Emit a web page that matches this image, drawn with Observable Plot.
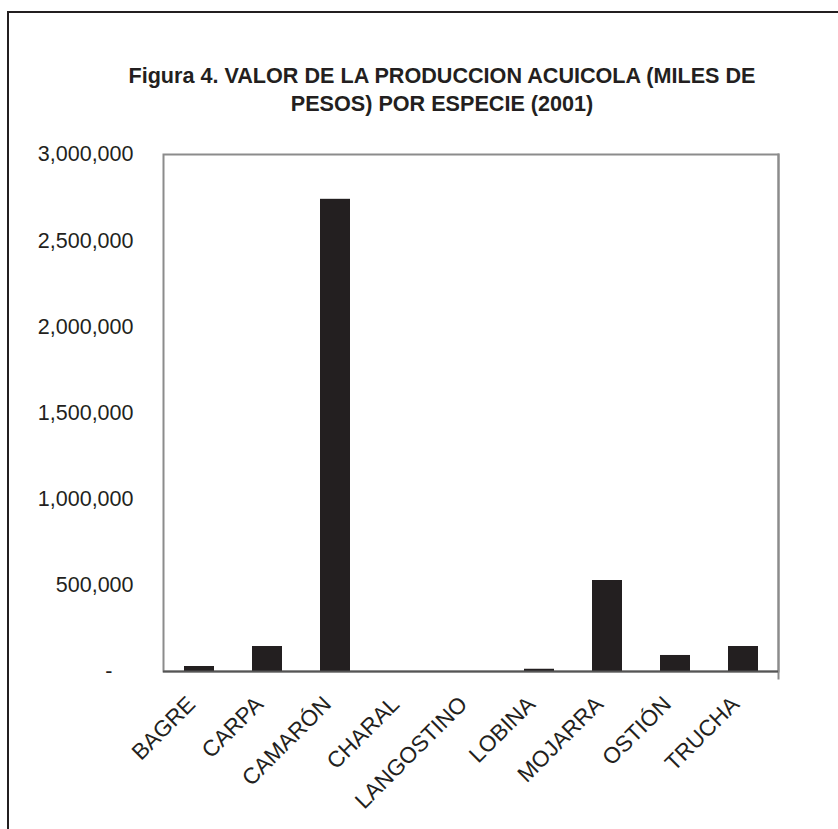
<!DOCTYPE html>
<html>
<head>
<meta charset="utf-8">
<script src="https://cdn.jsdelivr.net/npm/d3@7"></script>
<script src="https://cdn.jsdelivr.net/npm/@observablehq/plot@0.6"></script>
<style>
  html, body { margin: 0; padding: 0; background: #fff; overflow: hidden; }
  #page { position: relative; width: 838px; height: 829px; overflow: hidden; }
  #frame { position: absolute; left: 7px; top: 11px; width: 900px; height: 900px;
           border-left: 2px solid #231f20; border-top: 2px solid #231f20; }
  #title { position: absolute; left: 0; width: 884px; top: 62px; text-align: center;
           font: bold 21.6px "Liberation Sans", Arial, sans-serif; color: #231f20; line-height: 28px; }
  #chart { position: absolute; left: 0; top: 0; }
</style>
</head>
<body>
<div id="page">
  <div id="frame"></div>
  <div id="title">Figura 4. VALOR DE LA PRODUCCION ACUICOLA (MILES DE<br>PESOS) POR ESPECIE (2001)</div>
  <div id="chart"></div>
</div>
<script>
// Valor de la producción acuícola por especie, 2001 (miles de pesos)
const especies = ["BAGRE", "CARPA", "CAMARÓN", "CHARAL", "LANGOSTINO", "LOBINA", "MOJARRA", "OSTIÓN", "TRUCHA"];
const valores = [29000, 145000, 2740000, 0, 0, 13000, 528000, 93000, 145000];
const yTicks = [500000, 1000000, 1500000, 2000000, 2500000, 3000000];

const datos = especies.map((especie, i) => ({especie, valor: valores[i]}));

const ink = "#231f20";
const font = "'Liberation Sans', Arial, sans-serif";

const chart = Plot.plot({
  width: 838,
  height: 829,
  marginLeft: 163,
  marginRight: 60,
  marginTop: 154,
  marginBottom: 158,
  style: {fontFamily: font, fontSize: "21.5px", color: ink, background: "transparent"},
  x: {domain: especies, paddingInner: 0.56, paddingOuter: 0.28, label: null},
  y: {domain: [0, 3000000], label: null},
  marks: [
    Plot.frame({stroke: "#8c8c8c", strokeWidth: 2}),
    Plot.frame({anchor: "right", stroke: "#8c8c8c", strokeWidth: 2, insetBottom: -7}),
    Plot.barY(datos, {x: "especie", y: "valor", fill: ink}),
    Plot.ruleY([0], {stroke: "#555", strokeWidth: 2}),
    Plot.axisY(yTicks, {tickSize: 0, tickPadding: 30, tickFormat: d3.format(","), fill: ink, fontSize: 21.5, label: null}),
    Plot.axisY([0], {tickSize: 0, tickPadding: 30, dx: -21, tickFormat: () => "-", fill: ink, fontSize: 21.5, label: null}),
    Plot.axisX({tickRotate: -45, tickSize: 0, tickPadding: 29, dx: -8, fill: ink, fontSize: 22.5, label: null})
  ]
});

document.getElementById("chart").appendChild(chart);
</script>
</body>
</html>
